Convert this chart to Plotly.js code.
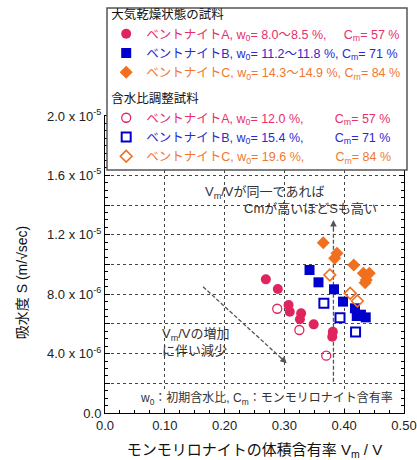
<!DOCTYPE html>
<html>
<head>
<meta charset="utf-8">
<script src="https://cdn.plot.ly/plotly-3.0.1.min.js"></script>
<style>html,body{margin:0;padding:0;background:#fff}</style>
</head>
<body>
<div id="chart" style="width:417px;height:460px"></div>
<script>
// Volume fraction of montmorillonite (Vm/V) and sorptivity S (m/√sec)
// Air-dried samples
const aDryX = [0.269, 0.289, 0.307, 0.309, 0.328, 0.326, 0.349, 0.381, 0.380];
const aDryY = [9.00e-6, 8.35e-6, 7.27e-6, 6.82e-6, 6.71e-6, 6.31e-6, 5.97e-6, 5.47e-6, 5.14e-6];
const bDryX = [0.342, 0.357, 0.383, 0.398, 0.418, 0.421, 0.428, 0.436];
const bDryY = [9.63e-6, 8.80e-6, 8.33e-6, 7.50e-6, 7.05e-6, 6.53e-6, 6.62e-6, 6.44e-6];
const cDryX = [0.365, 0.388, 0.384, 0.416, 0.432, 0.442, 0.437, 0.435];
const cDryY = [1.147e-5, 1.075e-5, 1.042e-5, 9.97e-6, 9.41e-6, 9.41e-6, 8.96e-6, 8.77e-6];
// Moisture-adjusted samples
const aAdjX = [0.288, 0.325, 0.370];
const aAdjY = [7.02e-6, 5.59e-6, 3.86e-6];
const bAdjX = [0.366, 0.393, 0.419];
const bAdjY = [7.39e-6, 6.42e-6, 5.45e-6];
const cAdjX = [0.376, 0.410, 0.422];
const cAdjY = [9.29e-6, 8.06e-6, 7.54e-6];

// Guide arrows (tail, head)
const upArrowX = [0.382, 0.382];
const upArrowY = [2.1e-6, 1.30e-5];
const downArrowX = [0.164, 0.304];
const downArrowY = [8.5e-6, 3.35e-6];

// Axis ticks
const xTickVals = [0, 0.1, 0.2, 0.3, 0.4, 0.5];
const xTickText = ['0.0', '0.10', '0.20', '0.30', '0.40', '0.50'];
const yTickVals = [0, 2e-6, 4e-6, 6e-6, 8e-6, 10e-6, 12e-6, 14e-6, 16e-6, 18e-6, 20e-6];
const yTickText = ['0.0', '', '4.0 x 10<sup>-6</sup>', '', '8.0 x 10<sup>-6</sup>', '',
  '1.2 x 10<sup>-5</sup>', '', '1.6 x 10<sup>-5</sup>', '', '2.0 x 10<sup>-5</sup>'];

const RED = '#e0245e', BLUE = '#0000cc', ORANGE = '#f07020';
const RED_T = '#e6306a', BLUE_T = '#2a2ad0', ORANGE_T = '#f07830';
const FONT = 'Liberation Sans, Arial, "Noto Sans CJK JP", sans-serif';
const NB = n => '\u00a0'.repeat(n);
const col = (c, s) => '<span style="color:' + c + '">' + s + '</span>';

const traces = [
  { x: upArrowX, y: upArrowY, mode: 'lines', showlegend: false, hoverinfo: 'skip',
    line: { color: '#555', width: 1.3, dash: '4px,2px' } },
  { x: downArrowX, y: downArrowY, mode: 'lines', showlegend: false, hoverinfo: 'skip',
    line: { color: '#555', width: 1.3, dash: '4px,2px' } },

  { x: aDryX, y: aDryY, mode: 'markers', legendgroup: 'dry',
    legendgrouptitle: { text: '大気乾燥状態の試料' },
    name: col(RED_T, 'ベントナイトA, w<sub>0</sub>= 8.0～8.5 %,' + NB(5) + 'C<sub>m</sub>= 57 %'),
    marker: { symbol: 'circle', size: 10, color: RED } },
  { x: bDryX, y: bDryY, mode: 'markers', legendgroup: 'dry',
    name: col(BLUE_T, 'ベントナイトB, w<sub>0</sub>= 11.2～11.8 %, C<sub>m</sub>= 71 %'),
    marker: { symbol: 'square', size: 10, color: BLUE } },
  { x: cDryX, y: cDryY, mode: 'markers', legendgroup: 'dry',
    name: col(ORANGE_T, 'ベントナイトC, w<sub>0</sub>= 14.3～14.9 %, C<sub>m</sub>= 84 %'),
    marker: { symbol: 'diamond', size: 10, color: ORANGE } },

  { x: aAdjX, y: aAdjY, mode: 'markers', legendgroup: 'adj',
    legendgrouptitle: { text: '含水比調整試料' },
    name: col(RED_T, 'ベントナイトA, w<sub>0</sub>= 12.0 %,' + NB(9) + 'C<sub>m</sub>= 57 %'),
    marker: { symbol: 'circle-open', size: 9, color: RED, line: { width: 1.3 } } },
  { x: bAdjX, y: bAdjY, mode: 'markers', legendgroup: 'adj',
    name: col(BLUE_T, 'ベントナイトB, w<sub>0</sub>= 15.4 %,' + NB(9) + 'C<sub>m</sub>= 71 %'),
    marker: { symbol: 'square-open', size: 9, color: BLUE, line: { width: 2 } } },
  { x: cAdjX, y: cAdjY, mode: 'markers', legendgroup: 'adj',
    name: col(ORANGE_T, 'ベントナイトC, w<sub>0</sub>= 19.6 %,' + NB(9) + 'C<sub>m</sub>= 84 %'),
    marker: { symbol: 'diamond-open', size: 9, color: ORANGE, line: { width: 1.6 } } }
];

const arrowHead = (x, y, ax, ay) => ({
  x: x, y: y, xref: 'x', yref: 'y', ax: ax, ay: ay, axref: 'pixel', ayref: 'pixel',
  text: '', showarrow: true, arrowhead: 2, arrowsize: 1.1, arrowwidth: 1.2, arrowcolor: '#555'
});

const layout = {
  width: 417, height: 460,
  margin: { l: 105, r: 13, t: 116, b: 47, autoexpand: false },
  paper_bgcolor: '#fff', plot_bgcolor: '#fff',
  font: { family: FONT, size: 12, color: '#222' },
  showlegend: true,
  legend: {
    x: 0.004, xanchor: 'left', y: 1.391, yanchor: 'top',
    bgcolor: 'rgba(0,0,0,0)', borderwidth: 0,
    font: { family: FONT, size: 12.5 },
    grouptitlefont: { family: FONT, size: 12.5, color: '#111' },
    tracegroupgap: 7, traceorder: 'grouped', itemsizing: 'trace'
  },
  // frame of the legend panel
  shapes: [
    { type: 'rect', xref: 'paper', yref: 'paper', x0: 0.0067, x1: 1.010, y0: 0.818, y1: 1.364,
      layer: 'above', fillcolor: '#fff', line: { color: '#555', width: 1.5 } }
  ],
  xaxis: {
    range: [0, 0.5], tickmode: 'array', tickvals: xTickVals, ticktext: xTickText,
    ticks: 'inside', ticklen: 5, tickcolor: '#000', showline: true, mirror: 'ticks',
    linecolor: '#000', linewidth: 1, zeroline: false,
    showgrid: true, gridcolor: '#444', griddash: 'dot', gridwidth: 1,
    tickfont: { family: FONT, size: 13, color: '#222' },
    minor: { tick0: 0, dtick: 0.025, ticks: 'inside', ticklen: 3, tickcolor: '#000', showgrid: false },
    title: { text: 'モンモリロナイトの体積含有率 V<sub>m</sub> / V', font: { family: FONT, size: 15, color: '#111' }, standoff: 12 }
  },
  yaxis: {
    range: [0, 2e-5], tickmode: 'array', tickvals: yTickVals, ticktext: yTickText,
    ticks: 'inside', ticklen: 5, tickcolor: '#000', showline: true, mirror: 'ticks',
    linecolor: '#000', linewidth: 1, zeroline: false,
    showgrid: true, gridcolor: '#444', griddash: 'dot', gridwidth: 1,
    tickfont: { family: FONT, size: 13, color: '#222' },
    minor: { tick0: 0, dtick: 0.5e-6, ticks: 'inside', ticklen: 3, tickcolor: '#000', showgrid: false }
  },
  annotations: [
    // y-axis title
    { x: -0.278, y: 0.44, xref: 'paper', yref: 'paper', xanchor: 'center', yanchor: 'middle',
      textangle: -90, showarrow: false,
      text: '吸水度 S (m/√sec)', font: { family: FONT, size: 14, color: '#111' } },
    { x: 0.266, y: 1.488e-5, xref: 'x', yref: 'y', showarrow: false,
      text: 'V<sub>m</sub>/Vが同一であれば', font: { family: FONT, size: 13, color: '#333' } },
    { x: 0.343, y: 1.380e-5, xref: 'x', yref: 'y', showarrow: false,
      text: 'Cmが高いほどSも高い', font: { family: FONT, size: 13, color: '#333' } },
    { x: 0.092, y: 4.81e-6, xref: 'x', yref: 'y', xanchor: 'left', align: 'left', showarrow: false,
      text: 'V<sub>m</sub>/Vの増加<br>に伴い減少', font: { family: FONT, size: 13, color: '#333' } },
    { x: 0.97, y: 0.047, xref: 'paper', yref: 'paper', xanchor: 'right', yanchor: 'middle', showarrow: false,
      bgcolor: '#fff', borderpad: 1,
      text: 'w<sub>0</sub>：初期含水比, C<sub>m</sub>：モンモリロナイト含有率', font: { family: FONT, size: 12, color: '#333' } },
    arrowHead(upArrowX[1], upArrowY[1], 0, 10),
    arrowHead(downArrowX[1], downArrowY[1], -7.4, -6.8)
  ]
};

Plotly.newPlot('chart', traces, layout, { displayModeBar: false, staticPlot: true });
</script>
</body>
</html>
